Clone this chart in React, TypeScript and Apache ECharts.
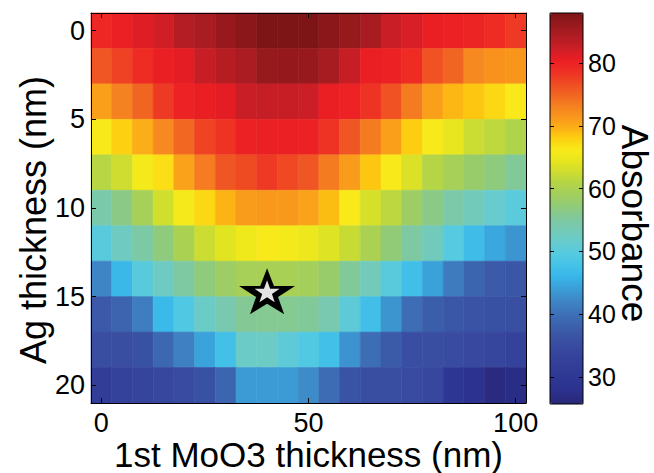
import React, { useEffect, useRef } from "react";
import * as echarts from "echarts";

// 1st MoO3 thickness (nm) — column centres
const moo3Thickness = [0, 5, 10, 15, 20, 25, 30, 35, 40, 45, 50, 55, 60, 65, 70, 75, 80, 85, 90, 95, 100];
// Ag thickness (nm) — row centres
const agThickness = [0, 2, 4, 6, 8, 10, 12, 14, 16, 18, 20];

// Absorbance per Ag thickness row (one value per MoO3 thickness)
const absAg0 = [79.5, 80.3, 81.3, 82.2, 84, 84.8, 86, 87, 88, 88, 88, 87, 86.2, 85, 82.5, 81.7, 80.5, 80.2, 79.8, 79, 78];
const absAg2 = [76, 77.5, 79, 80.5, 81, 82.7, 83.8, 84.7, 86.2, 86.3, 86, 85, 82.7, 80.5, 80.2, 79, 76.3, 75, 72.5, 71.8, 71.5];
const absAg4 = [70.8, 73, 75, 78, 80, 80.5, 81, 82.5, 82.8, 82.7, 82.4, 80.5, 80, 78.5, 76.3, 73.5, 70.8, 69.3, 68.5, 67.5, 66.3];
const absAg6 = [66, 68, 69.8, 72.5, 74.8, 77.3, 78.6, 80.2, 80.4, 80.4, 80.2, 78.6, 76, 73.5, 70.8, 68.2, 66, 64.5, 62.5, 61.7, 60.5];
const absAg8 = [61.2, 62.7, 65.7, 67, 70.6, 73.4, 76, 76.8, 78, 77, 76, 73.5, 71, 68.5, 66, 63.5, 61, 59.5, 58, 57, 55.5];
const absAg10 = [54.3, 56.5, 59.5, 62.8, 65.8, 67.5, 69.5, 71, 71.3, 71.3, 70.6, 69, 66.2, 63.2, 61.5, 58.5, 56.5, 54.5, 53, 51.5, 50.2];
const absAg12 = [50, 52.5, 54.7, 57, 60, 62.5, 64, 65.2, 66, 65.7, 65, 63.8, 62.3, 60, 57.3, 55, 53, 49.5, 47, 44.8, 43.3];
const absAg14 = [42, 46.3, 50, 52.5, 55, 57, 58.5, 59.5, 59.7, 59.7, 59.3, 58, 55.5, 53, 50, 47.3, 44.3, 41, 38.7, 37.5, 37];
const absAg16 = [37.2, 38.5, 41.3, 46.5, 49, 52, 54, 55.7, 55.8, 55.8, 55.5, 54, 50.5, 47.3, 43.3, 39.6, 37.8, 37, 36.4, 36, 35.7];
const absAg18 = [35.2, 35.3, 36, 39, 41.5, 44.5, 47.5, 52, 52.2, 50.5, 49.2, 47.5, 43.2, 39.7, 37.3, 35.5, 35.2, 35, 34.5, 34, 33];
const absAg20 = [31.5, 33, 33.7, 34.3, 35, 36, 38.5, 43.8, 43.8, 43.8, 42.5, 39.5, 36.5, 35.3, 35.2, 35, 34.3, 29.3, 28.3, 26.5, 27];
const absorbanceRows = [absAg0, absAg2, absAg4, absAg6, absAg8, absAg10, absAg12, absAg14, absAg16, absAg18, absAg20];

// Marked optimum (star)
const starPoint = [[40, 14.7]];

// Tick labels
const xTicks = [0, 50, 100];
const yTicks = [0, 5, 10, 15, 20];
const cbarTicks = [30, 40, 50, 60, 70, 80];
const cbarMin = 25.7;
const cbarMax = 88;

// Colormap anchors (value, colour)
const cmapAnchors: [number, string][] = [
  [25.7, "#2a2877"], [28, "#2b3190"], [31, "#303b96"], [34, "#37459d"], [37, "#3b57a6"],
  [40, "#3d70b7"], [43, "#3e90cd"], [46, "#37b7ea"], [49, "#50cae6"], [52, "#6ccbc8"],
  [55, "#7ec9a2"], [58, "#98cb6a"], [61, "#b4d446"], [64, "#e2e41f"], [66, "#f8ec1b"],
  [68, "#fdd10f"], [70, "#fbaa18"], [73, "#f58220"], [76, "#f05623"], [78.5, "#ee3224"],
  [80.5, "#ed1c24"], [82.5, "#c91f26"], [85, "#a61c21"], [88, "#7d1416"],
];

function hexToRgb(h: string) {
  const n = parseInt(h.slice(1), 16);
  return [(n >> 16) & 255, (n >> 8) & 255, n & 255];
}
function buildColormap(levels: number): string[] {
  const out: string[] = [];
  for (let i = 0; i < levels; i++) {
    const v = cbarMin + ((cbarMax - cbarMin) * i) / (levels - 1);
    let k = 0;
    while (k < cmapAnchors.length - 2 && v > cmapAnchors[k + 1][0]) k++;
    const [v0, c0] = cmapAnchors[k];
    const [v1, c1] = cmapAnchors[k + 1];
    const t = Math.max(0, Math.min(1, (v - v0) / (v1 - v0)));
    const a = hexToRgb(c0), b = hexToRgb(c1);
    const c = a.map((x, j) => Math.round(x + (b[j] - x) * t));
    out.push(`rgb(${c[0]},${c[1]},${c[2]})`);
  }
  return out;
}

const FONT = "'Liberation Sans', Arial, Helvetica, sans-serif";
const STAR = "path://M50,0 L61.8,35.1 L98.1,35.1 L68.8,56.7 L79.4,91 L50,70.3 L20.6,91 L31.2,56.7 L1.9,35.1 L38.2,35.1 Z";

export default function App() {
  const ref = useRef<HTMLDivElement>(null);
  useEffect(() => {
    if (!ref.current) return;
    const chart = echarts.init(ref.current, null, { renderer: "svg" });
    const cells: number[][] = [];
    agThickness.forEach((ag, r) => {
      moo3Thickness.forEach((m, c) => {
        cells.push([m, ag, absorbanceRows[r][c]]);
      });
    });
    const xStep = 5, yStep = 2;
    const tickStyle = { show: true, inside: true, length: 5, lineStyle: { color: "#000", width: 1 } };
    const lineStyle = { show: true, onZero: false, lineStyle: { color: "#000", width: 1 } };
    chart.setOption({
      animation: false,
      backgroundColor: "#fff",
      textStyle: { fontFamily: FONT },
      grid: [
        { left: 91, top: 13, width: 435, height: 390, outerBoundsMode: "none", containLabel: false },
        { left: 550, top: 13, width: 33, height: 391, outerBoundsMode: "none", containLabel: false },
      ],
      xAxis: [
        {
          gridIndex: 0, type: "value", min: -2.5, max: 102.5, position: "bottom", z: 10,
          axisLine: lineStyle,
          axisTick: { ...tickStyle, customValues: xTicks },
          axisLabel: { customValues: xTicks, fontSize: 27, color: "#000", margin: 6, fontFamily: FONT },
          splitLine: { show: false },
          name: "1st MoO3 thickness (nm)", nameLocation: "middle", nameGap: 34, nameMoveOverlap: false,
          nameTextStyle: { fontSize: 35, color: "#000", fontFamily: FONT, verticalAlign: "top" },
        },
        {
          gridIndex: 0, type: "value", min: -2.5, max: 102.5, position: "top", z: 10,
          axisLine: lineStyle,
          axisTick: { ...tickStyle, customValues: xTicks },
          axisLabel: { show: false },
          splitLine: { show: false },
        },
        { gridIndex: 1, type: "value", min: 0, max: 1, show: false },
      ],
      yAxis: [
        {
          gridIndex: 0, type: "value", min: -1, max: 21, inverse: true, position: "left", z: 10,
          axisLine: lineStyle,
          axisTick: { ...tickStyle, customValues: yTicks },
          axisLabel: { customValues: yTicks, fontSize: 27, color: "#000", margin: 6, fontFamily: FONT },
          splitLine: { show: false },
          name: "Ag thickness (nm)", nameLocation: "middle", nameGap: 40, nameRotate: 90, nameMoveOverlap: false,
          nameTextStyle: { fontSize: 36, color: "#000", fontFamily: FONT, padding: [0, 24, 0, 0] },
        },
        {
          gridIndex: 0, type: "value", min: -1, max: 21, inverse: true, position: "right", z: 10,
          axisLine: lineStyle,
          axisTick: { ...tickStyle, customValues: yTicks },
          axisLabel: { show: false },
          splitLine: { show: false },
        },
        {
          gridIndex: 1, type: "value", min: cbarMin, max: cbarMax, position: "right", z: 10,
          axisLine: { show: false, onZero: false },
          axisTick: { show: true, inside: true, length: 4, customValues: cbarTicks, lineStyle: { color: "#000" } },
          axisLabel: { customValues: cbarTicks, fontSize: 25, color: "#000", margin: 5, fontFamily: FONT },
          splitLine: { show: false },
          name: "Absorbance", nameLocation: "middle", nameGap: 33, nameRotate: -90, nameMoveOverlap: false,
          nameTextStyle: { fontSize: 37, color: "#000", fontFamily: FONT, padding: [0, 0, 0, 30] },
        },
        {
          gridIndex: 1, type: "value", min: cbarMin, max: cbarMax, position: "left", z: 10,
          axisLine: { show: false, onZero: false },
          axisTick: { show: true, inside: true, length: 4, customValues: cbarTicks, lineStyle: { color: "#000" } },
          axisLabel: { show: false },
          splitLine: { show: false },
        },
      ],
      visualMap: {
        type: "continuous",
        seriesIndex: 0,
        dimension: 2,
        min: cbarMin,
        max: cbarMax,
        calculable: false,
        hoverLink: false,
        orient: "vertical",
        left: 550,
        top: 13,
        padding: 0,
        itemWidth: 33,
        itemHeight: 391,
        inRange: { color: buildColormap(64) },
        textStyle: { color: "transparent" },
        z: 4,
      },
      graphic: [
        {
          type: "rect", z: 100, silent: true,
          shape: { x: 550, y: 13, width: 33, height: 391 },
          style: { fill: "none", stroke: "#000", lineWidth: 1 },
        },
      ],
      series: [
        {
          type: "custom",
          xAxisIndex: 0,
          yAxisIndex: 0,
          z: 2,
          data: cells,
          encode: { x: 0, y: 1 },
          renderItem: (params: any, api: any) => {
            const x = api.value(0), y = api.value(1);
            const p1 = api.coord([x - xStep / 2, y - yStep / 2]);
            const p2 = api.coord([x + xStep / 2, y + yStep / 2]);
            const color = api.visual("color");
            return {
              type: "rect",
              shape: {
                x: Math.min(p1[0], p2[0]),
                y: Math.min(p1[1], p2[1]),
                width: Math.abs(p2[0] - p1[0]),
                height: Math.abs(p2[1] - p1[1]),
              },
              style: { fill: color, stroke: color, lineWidth: 0.6 },
            };
          },
        },
        {
          type: "scatter", xAxisIndex: 0, yAxisIndex: 0, z: 20,
          data: starPoint, symbol: STAR, symbolSize: [56, 46],
          itemStyle: { color: "#000", opacity: 1 },
        },
        {
          type: "scatter", xAxisIndex: 0, yAxisIndex: 0, z: 21,
          data: starPoint, symbol: STAR, symbolSize: [25, 22],
          itemStyle: { color: "#e4e4e4", opacity: 1 },
        },
      ],
    });
    return () => chart.dispose();
  }, []);
  return (
    <div
      ref={ref}
      style={{ position: "fixed", left: 0, top: 0, width: 654, height: 473, background: "#fff" }}
    />
  );
}
